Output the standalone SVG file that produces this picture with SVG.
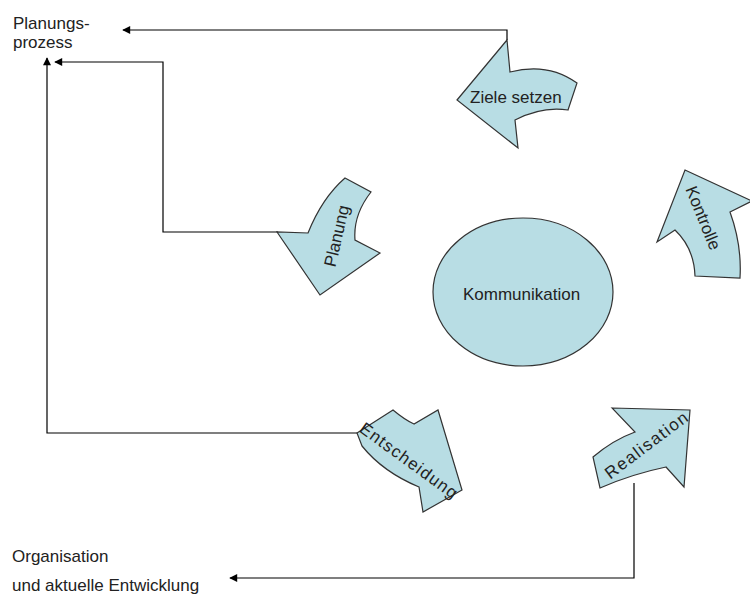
<svg xmlns="http://www.w3.org/2000/svg" width="750" height="599" viewBox="0 0 750 599">
<defs>
<marker id="ah" viewBox="0 0 10 10" refX="9" refY="5" markerWidth="9" markerHeight="8" markerUnits="userSpaceOnUse" orient="auto">
<path d="M0,0 L10,5 L0,10 Z" fill="#000"/>
</marker>
<style>
.shape{fill:#b8dde4;stroke:#333;stroke-width:1.2;stroke-linejoin:miter}
.lbl{font-family:"Liberation Sans",Arial,sans-serif;font-size:17px;fill:#222}
.c{text-anchor:middle;dominant-baseline:central}
.conn{fill:none;stroke:#000;stroke-width:1.2;marker-end:url(#ah)}
</style>
</defs>
<rect width="750" height="599" fill="#fff"/>
<g id="connectors">
<path class="conn" d="M507,40 V30 H123"/>
<path class="conn" d="M278,232 H163 V62 H55"/>
<path class="conn" d="M357,433 H47 V58"/>
<path class="conn" d="M634,483 V578 H230"/>
</g>
<g id="planungsprozess">
<text class="lbl" x="13" y="29">Planungs-</text>
<text class="lbl" x="13" y="48">prozess</text>
</g>
<g id="organisation">
<text class="lbl" x="12" y="562">Organisation</text>
<text class="lbl" x="12" y="591">und aktuelle Entwicklung</text>
</g>
<g id="kommunikation">
<ellipse class="shape" cx="523" cy="292" rx="90" ry="74"/>
<text class="lbl" x="463" y="300">Kommunikation</text>
</g>
<g id="ziele-setzen">
<path class="shape" d="M507,40 L457,100 L518,148 L515,120 Q542,106 568,110 L577,83 Q548,62 510,72 Z"/>
<text class="lbl" x="470" y="103">Ziele setzen</text>
</g>
<g id="planung">
<path class="shape" d="M345,178 L371,192 Q353,215 355,240 L380,253 L320,295 L277,232 L308,233 Q322,198 345,178 Z"/>
<text class="lbl c" transform="translate(337,236) rotate(-77)">Planung</text>
</g>
<g id="kontrolle">
<path class="shape" d="M685,170 L752,201 L730,212 Q742,245 740,278 L695,276 Q694,248 675,230 L657,242 Z"/>
<text class="lbl c" transform="translate(703,218) rotate(68)">Kontrolle</text>
</g>
<g id="entscheidung">
<path class="shape" d="M357,433 L393,410 Q405,420 414,424 L438,410 L462,490 L423,512 L419,487 Q383,472 362,446 Z"/>
<text class="lbl c" style="letter-spacing:1.2px" transform="translate(409,461) rotate(36)">Entscheidung</text>
</g>
<g id="realisation">
<path class="shape" d="M612,408 L690,410 L684,487 L666,467 Q632,474 600,488 L593,457 Q613,440 635,432 Z"/>
<text class="lbl c" style="letter-spacing:1.5px" transform="translate(647,445) rotate(-37)">Realisation</text>
</g>
</svg>
